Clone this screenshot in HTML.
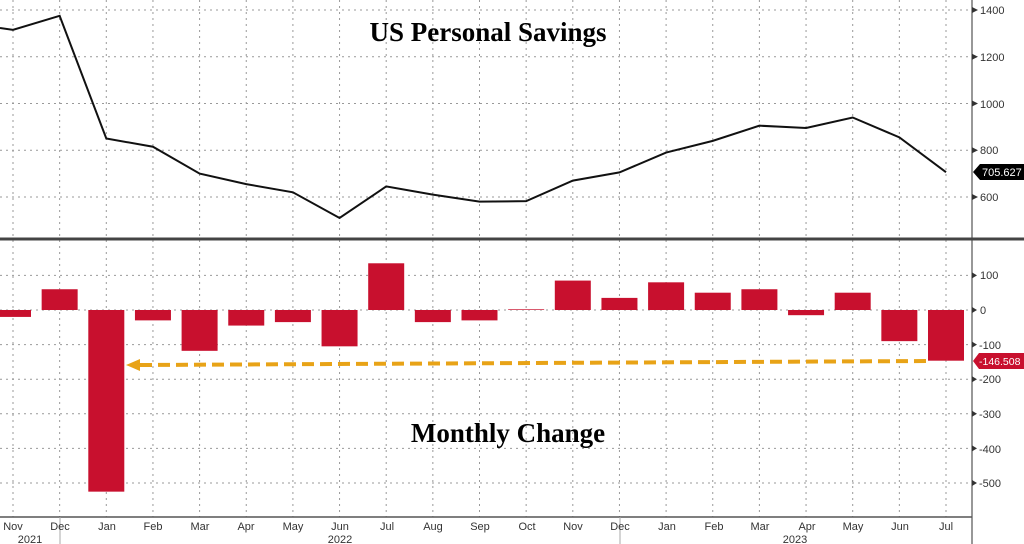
<!DOCTYPE html>
<html><head><meta charset="utf-8"><style>
html,body{margin:0;padding:0;background:#fff;}
svg{display:block;font-family:"Liberation Sans",sans-serif;}
</style></head><body>
<svg id="s" width="1024" height="544" viewBox="0 0 1024 544" xmlns="http://www.w3.org/2000/svg">
<rect width="1024" height="544" fill="#fff"/>
<g id="grid"></g>
<g id="bars"></g>
<polyline id="ln" fill="none" stroke="#111" stroke-width="2" points=""/>
<line x1="972" y1="0" x2="972" y2="544" stroke="#777" stroke-width="1.5"/>
<line x1="0" y1="239" x2="1024" y2="239" stroke="#444" stroke-width="3"/>
<line x1="0" y1="517" x2="972" y2="517" stroke="#555" stroke-width="1.5"/>
<line x1="60" y1="517" x2="60" y2="544" stroke="#aaa" stroke-width="1"/>
<line x1="620" y1="517" x2="620" y2="544" stroke="#aaa" stroke-width="1"/>
<g id="ticks"></g>
<line x1="140" y1="365" x2="928" y2="361" stroke="#e8a317" stroke-width="4" stroke-dasharray="12,6"/>
<polygon points="126,365 140,359 140,371" fill="#e8a317"/>
<text x="488" y="41" font-family="Liberation Serif,serif" font-weight="bold" font-size="27" text-anchor="middle" fill="#000">US Personal Savings</text>
<text x="508" y="442" font-family="Liberation Serif,serif" font-weight="bold" font-size="27" text-anchor="middle" fill="#000">Monthly Change</text>
<g font-size="11" fill="#333">
<text x="980" y="14">1400</text>
<text x="980" y="61">1200</text>
<text x="980" y="108">1000</text>
<text x="980" y="154">800</text>
<text x="980" y="201">600</text>
<text x="980" y="279">100</text>
<text x="980" y="314">0</text>
<text x="979" y="349">-100</text>
<text x="979" y="383">-200</text>
<text x="979" y="418">-300</text>
<text x="979" y="453">-400</text>
<text x="979" y="487">-500</text>
</g>
<polygon points="973,172 980,164 1024,164 1024,180 980,180" fill="#000"/>
<text x="982" y="176" font-size="11" fill="#fff">705.627</text>
<polygon points="973,361 979,353 1024,353 1024,369 979,369" fill="#c8102e"/>
<text x="979" y="365" font-size="10.5" fill="#fff">-146.508</text>
<g font-size="11" fill="#333" text-anchor="middle">
<text x="13" y="530">Nov</text><text x="60" y="530">Dec</text><text x="107" y="530">Jan</text><text x="153" y="530">Feb</text>
<text x="200" y="530">Mar</text><text x="246" y="530">Apr</text><text x="293" y="530">May</text><text x="340" y="530">Jun</text>
<text x="387" y="530">Jul</text><text x="433" y="530">Aug</text><text x="480" y="530">Sep</text><text x="527" y="530">Oct</text>
<text x="573" y="530">Nov</text><text x="620" y="530">Dec</text><text x="667" y="530">Jan</text><text x="714" y="530">Feb</text>
<text x="760" y="530">Mar</text><text x="807" y="530">Apr</text><text x="853" y="530">May</text><text x="900" y="530">Jun</text>
<text x="946" y="530">Jul</text>
<text x="30" y="543">2021</text><text x="340" y="543">2022</text><text x="795" y="543">2023</text>
</g>
</svg>
<script>
var NS="http://www.w3.org/2000/svg";
function el(p,t,a){var e=document.createElementNS(NS,t);for(var k in a)e.setAttribute(k,a[k]);document.getElementById(p).appendChild(e);return e;}
var xs=[];for(var i=0;i<21;i++)xs.push(13+i*46.65);
xs.forEach(function(x){el("grid","line",{x1:x,y1:0,x2:x,y2:517,stroke:"#999","stroke-width":1,"stroke-dasharray":"2,4"});});
[1400,1200,1000,800,600].forEach(function(v){var y=10+(1400-v)*0.2337;el("grid","line",{x1:0,y1:y,x2:972,y2:y,stroke:"#999","stroke-width":1,"stroke-dasharray":"2,4"});
 el("ticks","polygon",{points:"972,"+(y-3)+" 978,"+y+" 972,"+(y+3),fill:"#333"});});
[100,0,-100,-200,-300,-400,-500].forEach(function(v){var y=310-v*0.346;el("grid","line",{x1:0,y1:y,x2:972,y2:y,stroke:"#999","stroke-width":1,"stroke-dasharray":"2,4"});
 el("ticks","polygon",{points:"972,"+(y-3)+" 977,"+y+" 972,"+(y+3),fill:"#333"});});
var sv=[1315,1375,850,815,700,655,620,510,645,610,580,582,670,705,790,840,905,895,940,855,706];
var pts="0,28 ";sv.forEach(function(v,i){pts+=xs[i]+","+(10+(1400-v)*0.2337)+" ";});
document.getElementById("ln").setAttribute("points",pts);
var ch=[-20,60,-525,-30,-118,-45,-35,-105,135,-35,-30,2,85,35,80,50,60,-15,50,-90,-146.5];
ch.forEach(function(v,i){var y0=310,y=310-v*0.346;var x=xs[i]-18,w=36;if(x<0){w+=x;x=0;}
 el("bars","rect",{x:x,y:Math.min(y0,y),width:w,height:Math.abs(y-y0),fill:"#c8102e"});});
</script>
</body></html>
